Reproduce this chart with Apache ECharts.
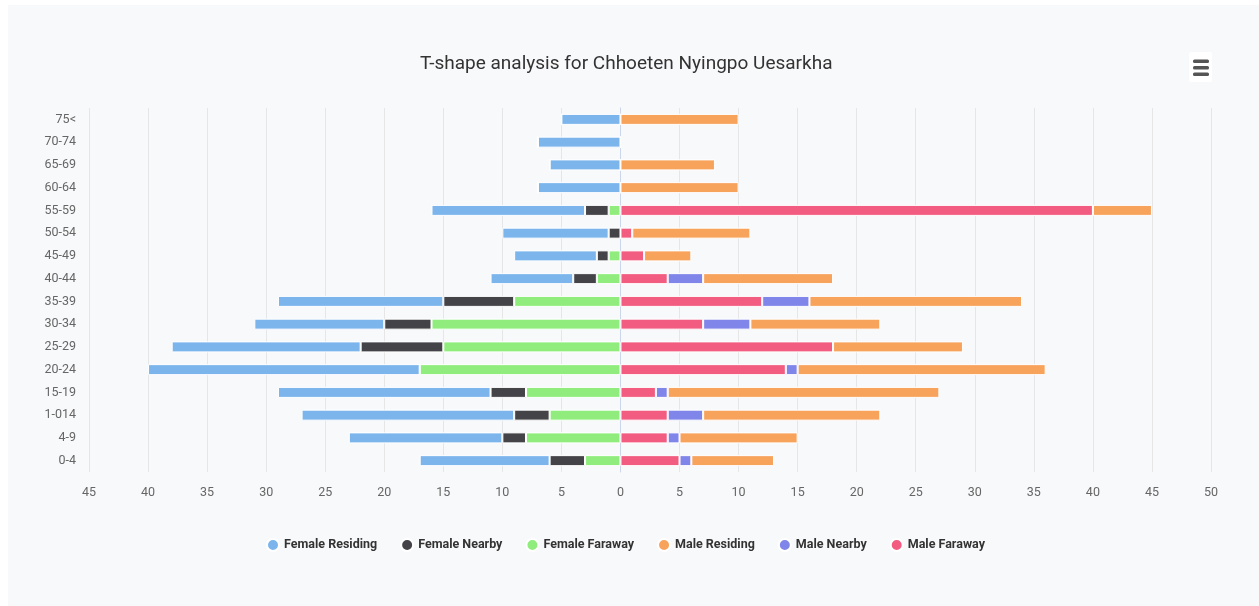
<!DOCTYPE html>
<html>
<head>
<meta charset="utf-8">
<script src="https://cdn.jsdelivr.net/npm/echarts@6/dist/echarts.min.js"></script>
<style>
  html, body { margin: 0; padding: 0; background: #fff; }
  #chart { position: absolute; left: 8px; top: 5px; width: 1251px; height: 601px; background: #f8f9fb; }
</style>
</head>
<body>
<div id="chart"></div>
<script>
'use strict';
// age groups, bottom to top
const ageGroups = ['0-4', '4-9', '1-014', '15-19', '20-24', '25-29', '30-34', '35-39',
  '40-44', '45-49', '50-54', '55-59', '60-64', '65-69', '70-74', '75<'];

// female counts (drawn to the left)
const femaleResiding = [11, 13, 18, 18, 23, 16, 11, 14, 7, 7, 9, 13, 7, 6, 7, 5];
const femaleNearby   = [3, 2, 3, 3, 0, 7, 4, 6, 2, 1, 1, 2, 0, 0, 0, 0];
const femaleFaraway  = [3, 8, 6, 8, 17, 15, 16, 9, 2, 1, 0, 1, 0, 0, 0, 0];
// male counts (drawn to the right)
const maleResiding = [7, 10, 15, 23, 21, 11, 11, 18, 11, 4, 10, 5, 10, 8, 0, 10];
const maleNearby   = [1, 1, 3, 1, 1, 0, 4, 4, 3, 0, 0, 0, 0, 0, 0, 0];
const maleFaraway  = [5, 4, 4, 3, 14, 18, 7, 12, 4, 2, 1, 40, 0, 0, 0, 0];

const legendOrder = ['Female Residing', 'Female Nearby', 'Female Faraway', 'Male Residing', 'Male Nearby', 'Male Faraway'];
const FONT = 'Roboto, "Noto Sans", sans-serif';

const neg = (a) => a.map((v) => -v);
// stacking starts at zero: faraway innermost, residing outermost
const seriesDefs = [
  ['Female Faraway', neg(femaleFaraway), '#90ed7d'],
  ['Female Nearby', neg(femaleNearby), '#434348'],
  ['Female Residing', neg(femaleResiding), '#7cb5ec'],
  ['Male Faraway', maleFaraway, '#f15c80'],
  ['Male Nearby', maleNearby, '#8085e9'],
  ['Male Residing', maleResiding, '#f7a35c'],
];

const chart = echarts.init(document.getElementById('chart'));
chart.setOption({
  backgroundColor: '#f8f9fb',
  animation: false,
  title: {
    text: 'T-shape analysis for Chhoeten Nyingpo Uesarkha',
    left: 407, top: 45,
    textStyle: { fontFamily: FONT, fontSize: 19, fontWeight: 'normal', color: '#333' },
  },
  legend: {
    data: legendOrder, bottom: 49, left: 253,
    icon: 'circle', itemWidth: 12, itemHeight: 12, itemGap: 23,
    textStyle: { fontFamily: FONT, fontSize: 12.5, fontWeight: 'bold', color: '#333' },
  },
  grid: { left: 81, right: 48, top: 103, bottom: 134 },
  xAxis: {
    type: 'value', min: -45, max: 50, interval: 5,
    axisLine: { show: false }, axisTick: { show: false },
    splitLine: { lineStyle: { color: '#e6e6e6' } },
    axisLabel: { formatter: (v) => String(Math.abs(v)), color: '#666', fontFamily: FONT, fontSize: 12.5, margin: 14 },
  },
  yAxis: {
    type: 'category', data: ageGroups,
    axisLine: { lineStyle: { color: '#ccd6eb' } }, axisTick: { show: false },
    axisLabel: { color: '#666', fontFamily: FONT, fontSize: 12.5, margin: 13 },
  },
  series: seriesDefs.map(([name, data, color]) => ({
    name, type: 'bar', stack: 'all', data, barWidth: 11,
    itemStyle: { color, borderColor: '#fff', borderWidth: 1 },
  })),
  graphic: [{
    type: 'group', right: 47, top: 47,
    children: [
      { type: 'rect', shape: { x: 0, y: 0, width: 23, height: 30, r: 2 }, style: { fill: '#fff' } },
      { type: 'rect', shape: { x: 4, y: 7.5, width: 16, height: 3.5, r: 1.5 }, style: { fill: '#555' } },
      { type: 'rect', shape: { x: 4, y: 14, width: 16, height: 3.5, r: 1.5 }, style: { fill: '#555' } },
      { type: 'rect', shape: { x: 4, y: 20.5, width: 16, height: 3.5, r: 1.5 }, style: { fill: '#555' } },
    ],
  }],
});
</script>
</body>
</html>
